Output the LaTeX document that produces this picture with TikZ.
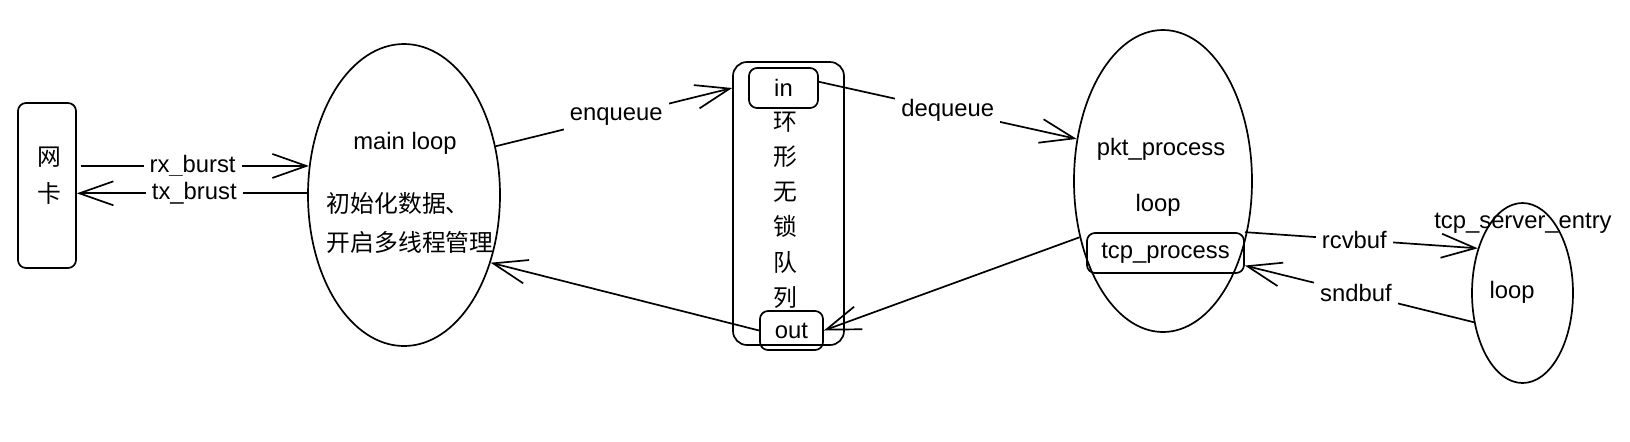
\documentclass[tikz,border=0pt]{standalone}
\usepackage{fontspec}
\setmainfont{Liberation Sans}
\newfontfamily\cjk{Noto Sans CJK SC}
\usetikzlibrary{arrows.meta,shapes.geometric}
\begin{document}
\begin{tikzpicture}[x=0.5pt,y=-0.5pt, line width=0.85pt,
  font=\fontsize{11.9pt}{14pt}\selectfont,
  box/.style={draw, rounded corners=4pt, inner sep=0pt},
  oval/.style={draw, ellipse, inner sep=0pt},
  arr/.style={-{Straight Barb[length=17pt,width=12pt,line width=0.85pt]}},
  lbl/.style={fill=white, inner sep=3pt},
  txt/.style={inner sep=0pt}]
\fill[white] (0,0) rectangle (1630,441);
\useasboundingbox (0,0) rectangle (1630,441);

\node[box, minimum width=29pt, minimum height=82.5pt] (nic) at (47,185.5) {};
\node[txt, align=center, font=\cjk\fontsize{11.9pt}{18.5pt}\selectfont] (nictxt) at (49,175.5) {网\\卡};

\node[oval, minimum width=96pt, minimum height=151pt] (ml) at (404,195) {};
\node[txt] (mltxt) at (405,143) {main loop};
\node[txt, anchor=west, align=left, font=\cjk\fontsize{11.9pt}{19.5pt}\selectfont] (mlcn) at (326,222.5) {初始化数据、\\开启多线程管理};

\node[box, rounded corners=7pt, minimum width=55.5pt, minimum height=141.5pt] (ring) at (788.5,203.5) {};
\node[box, minimum width=34.5pt, minimum height=20pt] (in) at (783.5,88) {in};
\node[txt, align=center, font=\cjk\fontsize{11.9pt}{17.6pt}\selectfont] (ringtxt) at (785,210) {环\\形\\无\\锁\\队\\列};
\node[box, minimum width=31.5pt, minimum height=19.5pt] (out) at (791.5,330.5) {out};

\node[oval, minimum width=89pt, minimum height=151pt] (pk) at (1163,181) {};
\node[txt] (pktxt) at (1161,149) {pkt\_process};
\node[txt] (pkloop) at (1158,205) {loop};
\node[box, minimum width=78.5pt, minimum height=20pt] (tcp) at (1165.5,253) {tcp\_process};

\node[oval, minimum width=50.5pt, minimum height=90pt] (se) at (1522.5,293) {};
\node[txt] (setxt) at (1523,223) {tcp\_server\_entry};
\node[txt] (seloop) at (1512,292) {loop};

\draw[arr] ([xshift=2pt]nic.east |- ml.163) -- node[lbl,pos=0.49]{rx\_burst} (ml.163);
\draw[arr] (ml.179) -- node[lbl,pos=0.49]{tx\_brust} (ml.179 -| nic.east);
\draw[arr] (ml.28) -- node[lbl,pos=0.51]{enqueue} (in.west -| ring.west);
\draw[arr] (in.10) -- node[lbl,pos=0.5]{dequeue} (pk.154);
\draw[arr] (pk.214) -- (out.east);
\draw[arr] (out.west) -- (ml.-38);
\draw[arr] (tcp.north east) -- node[lbl,pos=0.47]{rcvbuf} (se.135);
\draw[arr] (se.211) -- node[lbl,pos=0.515]{sndbuf} (tcp.-9);
\end{tikzpicture}
\end{document}
